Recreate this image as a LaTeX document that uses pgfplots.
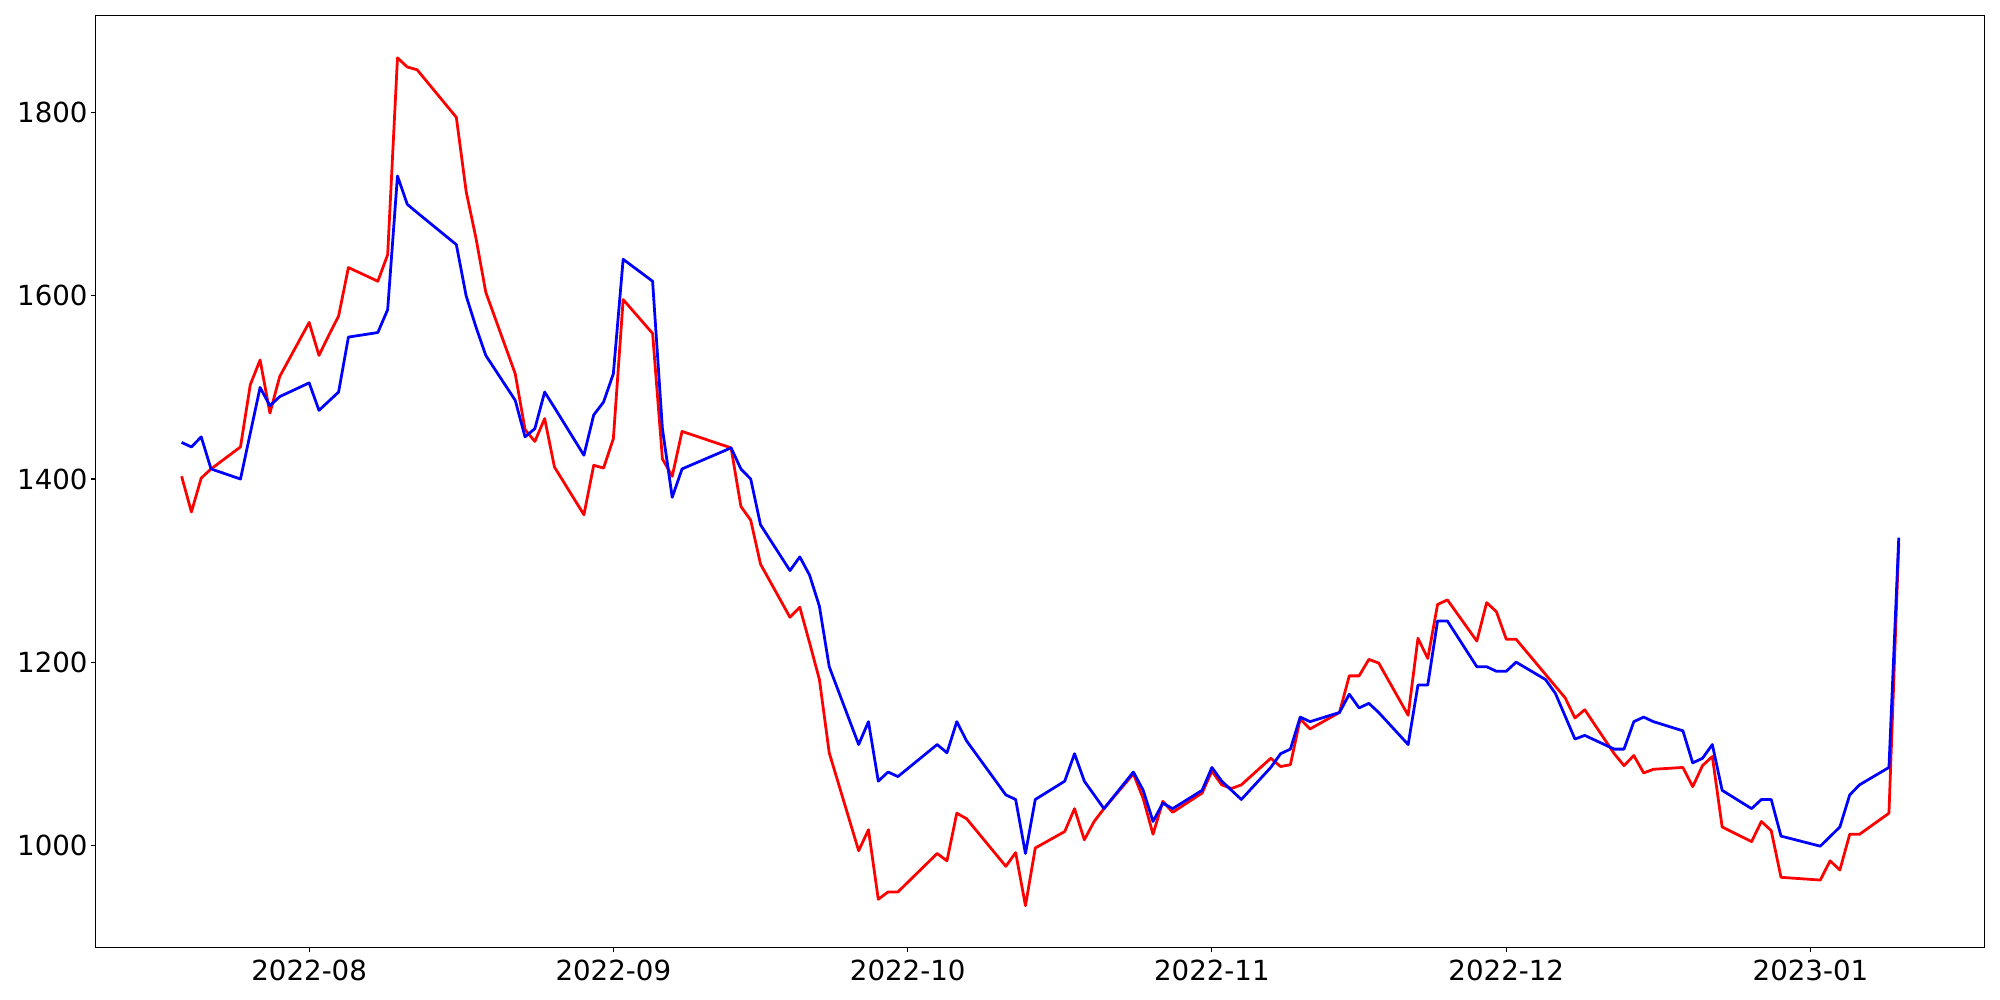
\documentclass[border=0pt]{standalone}
\usepackage{fontspec}
\setmainfont{DejaVu Sans}
\usepackage{pgfplots}
\pgfplotsset{compat=1.18}
\begin{document}
\begin{tikzpicture}
\begin{axis}[
  at={(0,0)}, anchor=south west,
  scale only axis, width=1365.2pt, height=673.8pt,
  xmin=-21.75, xmax=170.75, ymin=888.2, ymax=1906.4,
  xtick={0,31,61,92,122,153},
  xticklabels={2022-08,2022-09,2022-10,2022-11,2022-12,2023-01},
  ytick={1000,1200,1400,1600,1800},
  tick align=outside, tick pos=left,
  major tick length=3.5pt,
  every tick/.style={black, line width=0.8pt},
  axis line style={line width=0.8pt},
  ticklabel style={font=\fontsize{20}{24}\selectfont, inner sep=0pt},
  xticklabel style={yshift=-5.5pt},
  yticklabel style={xshift=-2.2pt},
  /pgf/number format/assume math mode=true,
  /pgf/number format/1000 sep={},
]
\addplot[red, line width=2pt, line join=round] coordinates {
(-13,1403)(-12,1364)(-11,1401)(-10,1411)(-7,1435)(-6,1503)(-5,1530)(-4,1472)(-3,1512)
(0,1571)(1,1535)(2,1557)(3,1578)(4,1631)(7,1616)(8,1645)(9,1860)(10,1850)(11,1847)
(15,1795)(16,1714)(17,1663)(18,1604)(21,1515)(22,1454)(23,1441)(24,1466)(25,1413)
(28,1361)(29,1415)(30,1412)(31,1444)(32,1596)(35,1559)(36,1422)(37,1403)(38,1452)
(43,1434)(44,1370)(45,1355)(46,1307)(49,1249)(50,1260)(51,1221)(52,1181)(53,1101)
(56,994)(57,1017)(58,941)(59,949)(60,949)(64,991)(65,983)(66,1035)(67,1029)
(71,977)(72,992)(73,934)(74,997)(77,1015)(78,1040)(79,1006)(80,1026)(81,1040)
(84,1078)(85,1051)(86,1012)(87,1048)(88,1036)(91,1057)(92,1081)(93,1066)(94,1062)(95,1066)
(98,1095)(99,1086)(100,1088)(101,1138)(102,1127)(105,1145)(106,1185)(107,1185)(108,1203)(109,1199)
(112,1142)(113,1226)(114,1204)(115,1263)(116,1268)(119,1223)(120,1265)(121,1255)(122,1225)(123,1225)
(128,1161)(129,1139)(130,1148)(133,1100)(134,1087)(135,1098)(136,1079)(137,1083)
(140,1085)(141,1064)(142,1087)(143,1097)(144,1020)(147,1004)(148,1026)(149,1016)(150,965)
(154,962)(155,983)(156,973)(157,1012)(158,1012)(161,1035)(162,1330)
};
\addplot[blue, line width=2pt, line join=round] coordinates {
(-13,1440)(-12,1435)(-11,1446)(-10,1411)(-7,1400)(-6,1450)(-5,1500)(-4,1480)(-3,1490)
(0,1505)(1,1475)(2,1485)(3,1495)(4,1555)(7,1560)(8,1585)(9,1731)(10,1700)(11,1691)
(15,1656)(16,1600)(17,1566)(18,1535)(21,1486)(22,1446)(23,1455)(24,1495)(25,1478)
(28,1426)(29,1470)(30,1484)(31,1515)(32,1640)(35,1616)(36,1455)(37,1380)(38,1411)
(43,1434)(44,1411)(45,1400)(46,1350)(49,1300)(50,1315)(51,1295)(52,1261)(53,1195)
(56,1110)(57,1135)(58,1070)(59,1080)(60,1075)(64,1110)(65,1101)(66,1135)(67,1114)
(71,1055)(72,1050)(73,991)(74,1050)(77,1070)(78,1100)(79,1070)(80,1055)(81,1040)
(84,1080)(85,1060)(86,1026)(87,1046)(88,1040)(91,1060)(92,1085)(93,1070)(95,1050)
(98,1085)(99,1100)(100,1105)(101,1140)(102,1135)(105,1145)(106,1165)(107,1150)(108,1155)(109,1145)
(112,1110)(113,1175)(114,1175)(115,1245)(116,1245)(119,1195)(120,1195)(121,1190)(122,1190)(123,1200)
(126,1181)(127,1166)(129,1116)(130,1120)(133,1105)(134,1105)(135,1135)(136,1140)(137,1135)
(140,1125)(141,1090)(142,1095)(143,1110)(144,1060)(147,1040)(148,1050)(149,1050)(150,1010)
(154,999)(156,1020)(157,1055)(158,1066)(161,1085)(162,1336)
};
\end{axis}
\pgfresetboundingbox
\path[use as bounding box] (-69.2pt,-37.8pt) rectangle (1376.3pt,684.9pt);
\end{tikzpicture}
\end{document}
